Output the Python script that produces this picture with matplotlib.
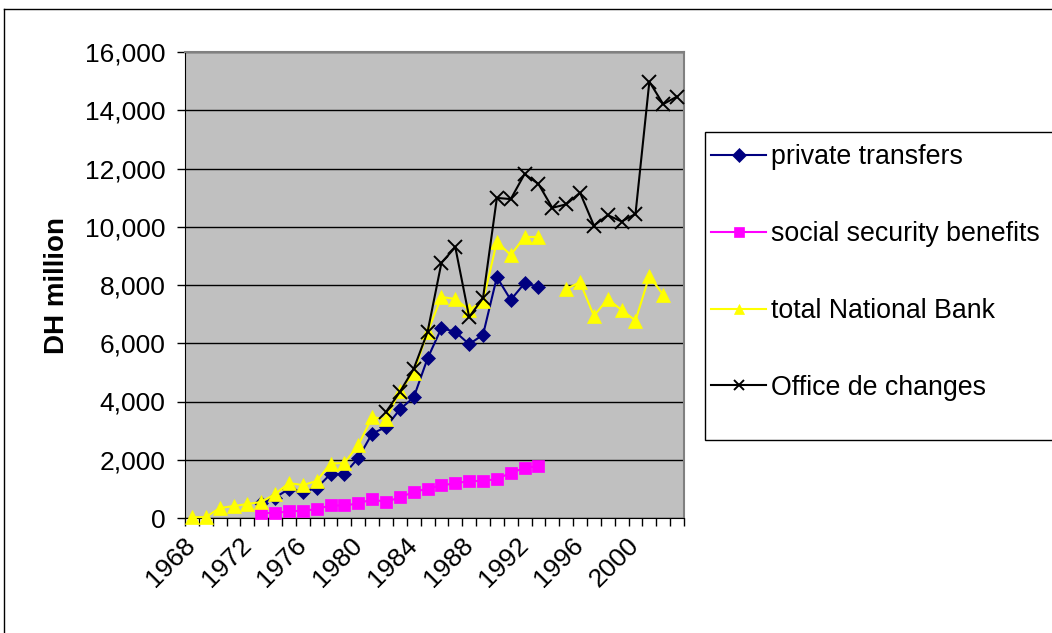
import numpy as np
import matplotlib
matplotlib.use("Agg")
import matplotlib.pyplot as plt
from matplotlib.lines import Line2D
from matplotlib.patches import Rectangle
from matplotlib.ticker import FuncFormatter

plt.rcParams['font.family'] = ['Liberation Sans', 'DejaVu Sans']

nan = np.nan
years = list(range(1968, 2004))

# DH million (nan = no data)
private_transfers = [nan, nan, nan, nan, nan, 500, 700, 1000, 900, 1030,
                     1510, 1510, 2060, 2900, 3120, 3730, 4140, 5480, 6520, 6390,
                     5970, 6290, 8270, 7490, 8060, 7940, nan, nan, nan, nan,
                     nan, nan, nan, nan, nan, nan]
social_security = [nan, nan, nan, nan, nan, 180, 160, 240, 240, 310,
                   430, 430, 500, 640, 550, 710, 890, 1010, 1120, 1190,
                   1270, 1270, 1340, 1550, 1720, 1780, nan, nan, nan, nan,
                   nan, nan, nan, nan, nan, nan]
national_bank = [30, 30, 340, 410, 480, 550, 820, 1200, 1130, 1270,
                 1870, 1890, 2500, 3460, 3400, 4360, 4980, 6390, 7590, 7520,
                 7140, 7450, 9480, 9030, 9650, 9650, nan, 7860, 8100, 6940,
                 7520, 7140, 6780, 8310, 7660, nan]
office_changes = [nan, nan, nan, nan, nan, nan, nan, nan, nan, nan,
                  nan, nan, nan, nan, 3640, 4330, 5120, 6390, 8760, 9300,
                  6900, 7550, 10990, 10950, 11810, 11470, 10650, 10770, 11170, 10040,
                  10400, 10180, 10440, 14980, 14210, 14470]

series = [
    ("private transfers", private_transfers, "#000080", "D", 7),
    ("social security benefits", social_security, "#FF00FF", "s", 8),
    ("total National Bank", national_bank, "#FFFF00", "^", 10),
    ("Office de changes", office_changes, "#000000", "x", 10),
]

W, H = 1052, 633
fig = plt.figure(figsize=(W / 100, H / 100), dpi=100)
ax = fig.add_axes([185 / W, 1 - 518 / H, 499 / W, 466 / H])
ax.set_facecolor("#C0C0C0")

x = np.arange(len(years))
handles = []
for label, vals, color, marker, ms in series:
    line, = ax.plot(x, vals, color=color, marker=marker, markersize=ms,
                    linewidth=1.5, markeredgewidth=1.4 if marker == "x" else 0.5,
                    markeredgecolor=color, label=label, clip_on=False, zorder=3)
    handles.append(line)

ax.set_xlim(-0.5, len(years) - 0.5)
ax.set_ylim(0, 16000)
ax.set_yticks(np.arange(0, 16001, 2000))
ax.yaxis.set_major_formatter(FuncFormatter(lambda v, p: f"{int(v):,}"))
ax.grid(axis="y", color="#000000", linewidth=1.0, zorder=1)
ax.set_axisbelow(True)

# tick marks at category boundaries, labels every 4 years at category centres
ax.set_xticks(np.arange(-0.5, len(years), 1.0))
ax.set_xticklabels([])
ax.set_xticks(x[::4], minor=True)
ax.set_xticklabels([str(y) for y in years[::4]], minor=True, rotation=45,
                   ha="right", va="center", rotation_mode="anchor", fontsize=19)
ax.tick_params(axis="x", which="major", length=6, width=1, color="black", direction="out")
ax.tick_params(axis="x", which="minor", length=0, pad=17)
ax.tick_params(axis="y", length=6, width=1, labelsize=19, pad=8)

for side in ["top", "right"]:
    ax.spines[side].set_color("#808080")
    ax.spines[side].set_linewidth(1.5)
ax.spines["left"].set_color("black")
ax.spines["bottom"].set_color("black")

ax.set_ylabel("DH million", fontsize=20, fontweight="bold", labelpad=11)

# legend box drawn separately so its height matches the original
fig.add_artist(Rectangle((705 / W, 1 - 440 / H), 360 / W, 308 / H,
                         transform=fig.transFigure, facecolor="white",
                         edgecolor="black", linewidth=1.0, zorder=4))
leg = fig.legend(handles=handles, loc="upper left",
                 bbox_to_anchor=(699 / W, 1 - 132 / H),
                 fontsize=19.3, frameon=False,
                 labelspacing=1.9, handlelength=2.05, handletextpad=0.2,
                 borderpad=0.45, borderaxespad=0)
leg.set_zorder(5)
for h in leg.legend_handles:
    h.set_markersize(7)

# outer chart border
fig.add_artist(Line2D([4 / W, 1], [1 - 9 / H, 1 - 9 / H], color="black", linewidth=1))
fig.add_artist(Line2D([4 / W, 4 / W], [0, 1 - 9 / H], color="black", linewidth=1))

fig.savefig("out.png", dpi=100)
